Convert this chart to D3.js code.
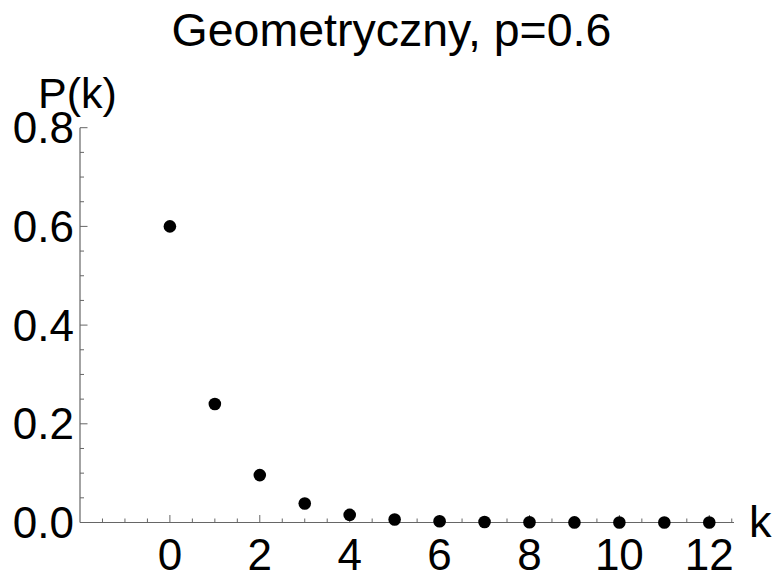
<!DOCTYPE html>
<html><head><meta charset="utf-8">
<script src="https://cdn.jsdelivr.net/npm/d3@7"></script>
<style>html,body{margin:0;padding:0;background:#fff;}</style>
</head><body>
<svg id="c" width="775" height="582"></svg>
<script>
const kValues = [0,1,2,3,4,5,6,7,8,9,10,11,12];
const pValues = [0.6,0.24,0.096,0.0384,0.0154,0.0061,0.0025,0.001,0.0004,0.00016,0.00006,0.00003,0.00001];
const xTicks = [0,2,4,6,8,10,12];
const yTicks = [0.0,0.2,0.4,0.6,0.8];
const title = "Geometryczny, p=0.6";

const svg = d3.select("#c");
const font = "'Liberation Sans', Arial, sans-serif";
const x = d3.scaleLinear().domain([-2, 12.55]).range([80, 734]);
const y = d3.scaleLinear().domain([0, 0.8]).range([522.5, 127.7]);
const axisColor = "#666";

// x axis
const gx = svg.append("g");
gx.append("line").attr("x1", x(-2)).attr("x2", x(12.55)).attr("y1", y(0)).attr("y2", y(0)).attr("stroke", axisColor).attr("stroke-width", 1.2);
const xMinor = d3.range(-1.5, 12.51, 0.5).filter(v => !xTicks.includes(v));
gx.selectAll(".xm").data(xMinor).enter().append("line")
  .attr("x1", d => x(d)).attr("x2", d => x(d)).attr("y1", y(0)).attr("y2", y(0) - 4).attr("stroke", axisColor);
gx.selectAll(".xM").data(xTicks).enter().append("line")
  .attr("x1", d => x(d)).attr("x2", d => x(d)).attr("y1", y(0)).attr("y2", y(0) - 7.5).attr("stroke", axisColor);
gx.selectAll(".xl").data(xTicks).enter().append("text")
  .attr("x", d => x(d)).attr("y", 570).attr("text-anchor", "middle")
  .attr("font-family", font).attr("font-size", 44).text(d => d);

// y axis
const gy = svg.append("g");
gy.append("line").attr("x1", x(-2)).attr("x2", x(-2)).attr("y1", y(0)).attr("y2", y(0.8)).attr("stroke", axisColor).attr("stroke-width", 1.2);
const yMinor = d3.range(0.05, 0.8, 0.05).filter(v => Math.abs(v*5 - Math.round(v*5)) > 1e-6);
gy.selectAll(".ym").data(yMinor).enter().append("line")
  .attr("x1", x(-2)).attr("x2", x(-2) + 4).attr("y1", d => y(d)).attr("y2", d => y(d)).attr("stroke", axisColor);
gy.selectAll(".yM").data(yTicks).enter().append("line")
  .attr("x1", x(-2)).attr("x2", x(-2) + 7.5).attr("y1", d => y(d)).attr("y2", d => y(d)).attr("stroke", axisColor);
gy.selectAll(".yl").data(yTicks).enter().append("text")
  .attr("x", 74).attr("y", d => y(d) + 15.5).attr("text-anchor", "end")
  .attr("font-family", font).attr("font-size", 44).text(d => d.toFixed(1));

// labels
svg.append("text").attr("x", 391.5).attr("y", 46).attr("text-anchor", "middle")
  .attr("font-family", font).attr("font-size", 46.5).text(title);
svg.append("text").attr("x", 38).attr("y", 108).attr("font-family", font).attr("font-size", 43).text("P(k)");
svg.append("text").attr("x", 749).attr("y", 537).attr("font-family", font).attr("font-size", 45).text("k");

// points
svg.append("g").selectAll("circle").data(kValues).enter().append("circle")
  .attr("cx", (d) => x(d)).attr("cy", (d, i) => y(pValues[i])).attr("r", 6.3).attr("fill", "#000");
</script>
</body></html>
